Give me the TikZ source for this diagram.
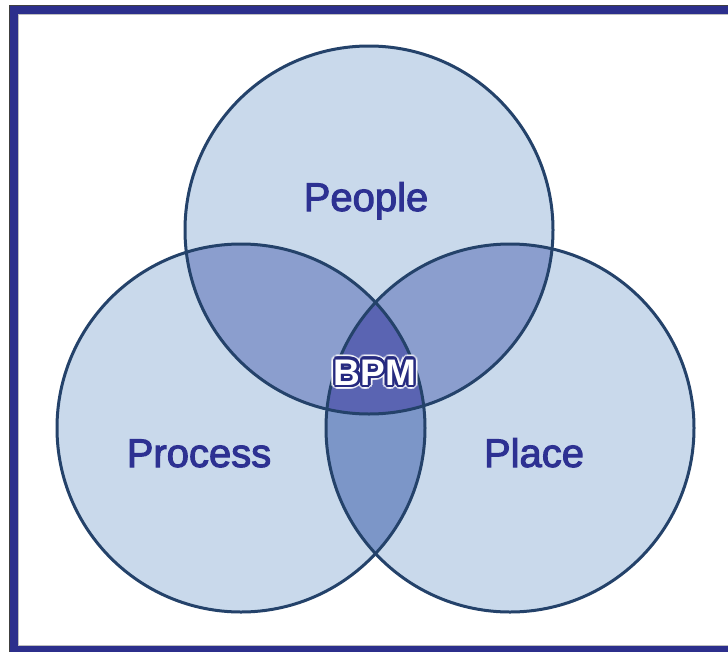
\documentclass[tikz,border=0pt]{standalone}
\usepackage{fontspec}
\setmainfont{Liberation Sans}
\newfontfamily\labelfont[FakeBold=2.5]{Liberation Sans}
\usetikzlibrary{calc}
\definecolor{frameblue}{RGB}{44,47,140}
\definecolor{lightfill}{RGB}{201,217,235}
\definecolor{pairfill}{RGB}{139,158,206}
\definecolor{lowpair}{RGB}{124,150,200}
\definecolor{centerfill}{RGB}{90,100,178}
\definecolor{ringline}{RGB}{36,66,106}
\definecolor{textblue}{RGB}{45,49,146}
\definecolor{bpmline}{RGB}{38,42,128}
\tikzset{
  ring/.style={draw=ringline, line width=3pt},
  setlabel/.style={text=textblue, anchor=base, inner sep=0pt, font=\labelfont\fontsize{40}{40}\selectfont},
  bpmfont/.style={anchor=base, inner sep=0pt, font=\bfseries\fontsize{37}{37}\selectfont}
}
\begin{document}
\begin{tikzpicture}[x=1pt,y=-1pt]
\useasboundingbox (0,0) rectangle (728,651);
\fill[white] (0,0) rectangle (728,651);
\coordinate (cpeople) at (369,230);
\coordinate (cprocess) at (241,428);
\coordinate (cplace) at (510,428);
\def\R{184pt}
% base fills
\fill[lightfill] (cpeople) circle[radius=\R];
\fill[lightfill] (cprocess) circle[radius=\R];
\fill[lightfill] (cplace) circle[radius=\R];
% pairwise overlaps
\begin{scope}
  \clip (cpeople) circle[radius=\R];
  \fill[pairfill] (cprocess) circle[radius=\R];
  \fill[pairfill] (cplace) circle[radius=\R];
\end{scope}
\begin{scope}
  \clip (cprocess) circle[radius=\R];
  \fill[lowpair] (cplace) circle[radius=\R];
\end{scope}
% triple overlap
\begin{scope}
  \clip (cpeople) circle[radius=\R];
  \clip (cprocess) circle[radius=\R];
  \fill[centerfill] (cplace) circle[radius=\R];
\end{scope}
% outlines
\draw[ring] (cpeople) circle[radius=\R];
\draw[ring] (cprocess) circle[radius=\R];
\draw[ring] (cplace) circle[radius=\R];
% set labels
\node[setlabel] (people) at (366,211) {People};
\node[setlabel] (process) at (199,467) {Process};
\node[setlabel] (place) at (534,467) {Place};
% centre label: soft white halo, dark blue outline, white letters
\coordinate (bpmpos) at (375,385);
\foreach \a in {0,20,...,340}{
  \node[bpmfont, text=white, opacity=0.6] (bpmhalo\a) at ($(bpmpos)+(\a:4.5pt)$) {BPM};
}
\foreach \a in {0,20,...,340}{
  \node[bpmfont, text=bpmline] (bpmline\a) at ($(bpmpos)+(\a:2.4pt)$) {BPM};
}
\node[bpmfont, text=white] (bpm) at (bpmpos) {BPM};
% frame
\draw[frameblue, line width=9pt] (14,10) rectangle (740,650);
\draw[black!75, line width=0.8pt] (9.5,5.5) rectangle (745,655);
\draw[gray!50, line width=0.8pt] (18.8,14.8) rectangle (735,645.2);
\end{tikzpicture}
\end{document}
